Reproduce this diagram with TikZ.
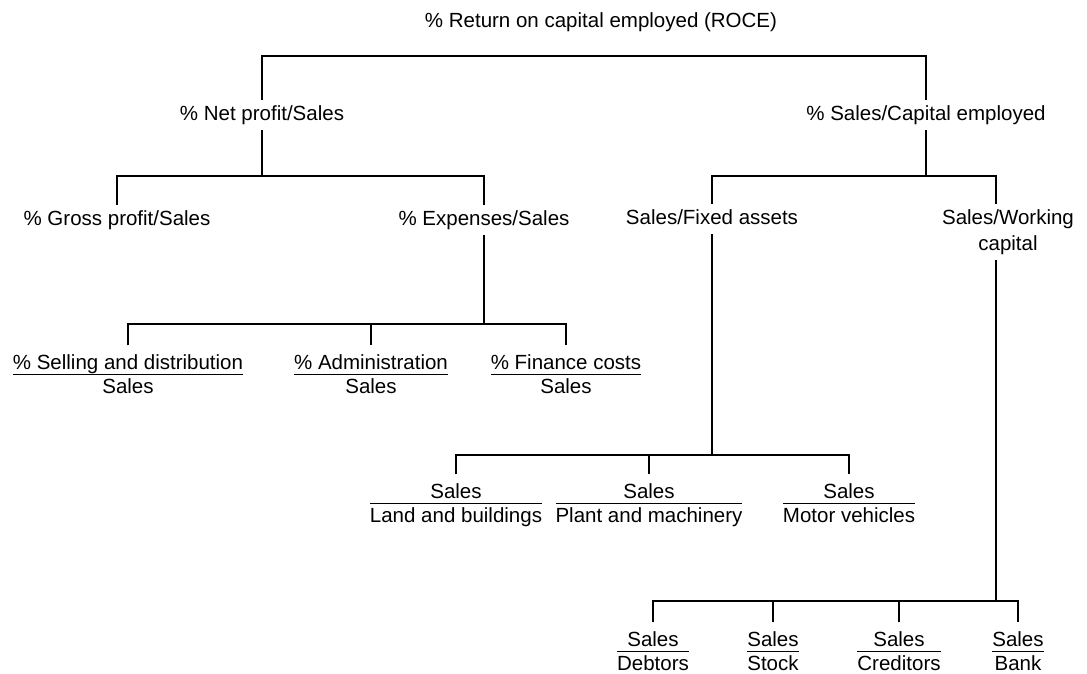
\documentclass[tikz,border=0pt]{standalone}
\usepackage{fontspec}
\setmainfont{Liberation Sans}
% two-part ratio with a rule between the parts
\newcommand{\ratio}[2]{{\renewcommand{\arraystretch}{0.9}\setlength{\tabcolsep}{0pt}\setlength{\arrayrulewidth}{1.3pt}\begin{tabular}{c}#1\\[-2pt]\hline\rule{0pt}{18pt}#2\end{tabular}}}

\begin{document}
\begin{tikzpicture}[x=1pt, y=-1pt, line width=1.8pt,
    lbl/.style={font=\fontsize{20.5}{26}\selectfont, inner xsep=0pt, inner ysep=5pt, text height=15pt, text depth=4pt},
    twoline/.style={font=\fontsize{20.5}{26}\selectfont, inner xsep=0pt, inner ysep=5pt, align=center},
    frac/.style={font=\fontsize{20.5}{24}\selectfont, inner xsep=0pt, inner ysep=8pt}]
    \useasboundingbox (0, 0) rectangle (1087, 673);

    \node[lbl] at (601, 22) (roce) {\% Return on capital employed (ROCE)};
    \node[lbl] at (262, 115) (net) {\% Net profit/Sales};
    \node[lbl] at (926, 115) (cap) {\% Sales/Capital employed};
    \node[lbl] at (117, 220) (gross) {\% Gross profit/Sales};
    \node[lbl] at (484, 220) (exp) {\% Expenses/Sales};
    \node[lbl] at (712, 219) (fix) {Sales/Fixed assets};
    \node[twoline] at (1008, 232) (work) {Sales/Working\\capital};

    \node[frac] at (128, 377) (sell) {\ratio{\% Selling and distribution}{Sales}};
    \node[frac] at (371, 377) (adm) {\ratio{\% Administration}{Sales}};
    \node[frac] at (566, 377) (fin) {\ratio{\% Finance costs}{Sales}};

    \node[frac] at (456, 506) (land) {\ratio{Sales}{Land and buildings}};
    \node[frac] at (649, 506) (plant) {\ratio{Sales}{Plant and machinery}};
    \node[frac] at (849, 506) (motor) {\ratio{Sales}{Motor vehicles}};

    \node[frac] at (653, 654) (debt) {\ratio{Sales}{Debtors}};
    \node[frac] at (773, 654) (stock) {\ratio{Sales}{Stock}};
    \node[frac] at (899, 654) (cred) {\ratio{Sales}{Creditors}};
    \node[frac] at (1018, 654) (bank) {\ratio{Sales}{Bank}};

    % heights of the bars
    \coordinate (b1) at (0, 56);
    \coordinate (b2) at (0, 176);
    \coordinate (b4) at (0, 324);
    \coordinate (b5) at (0, 455);
    \coordinate (b6) at (0, 601);
    % the working capital line runs left of its text
    \coordinate (wtop) at ([xshift=-12pt]work.north);
    \coordinate (wbot) at ([xshift=-12pt]work.south);

    \draw (net.north) -- (net.north |- b1) -| (cap.north);

    \draw (gross.north) |- (exp.north |- b2) -- (exp.north);
    \draw (net.south) -- (net.south |- b2);
    \draw (fix.north) |- (wtop |- b2) -- (wtop);
    \draw (cap.south) -- (cap.south |- b2);

    \draw (sell.north) |- (fin.north |- b4) -- (fin.north);
    \draw (adm.north) -- (adm.north |- b4);
    \draw (exp.south) -- (exp.south |- b4);

    \draw (land.north) |- (motor.north |- b5) -- (motor.north);
    \draw (plant.north) -- (plant.north |- b5);
    \draw (fix.south) -- (fix.south |- b5);

    \draw (debt.north) |- (bank.north |- b6) -- (bank.north);
    \draw (stock.north) -- (stock.north |- b6);
    \draw (cred.north) -- (cred.north |- b6);
    \draw (wbot) -- (wbot |- b6);
\end{tikzpicture}
\end{document}
